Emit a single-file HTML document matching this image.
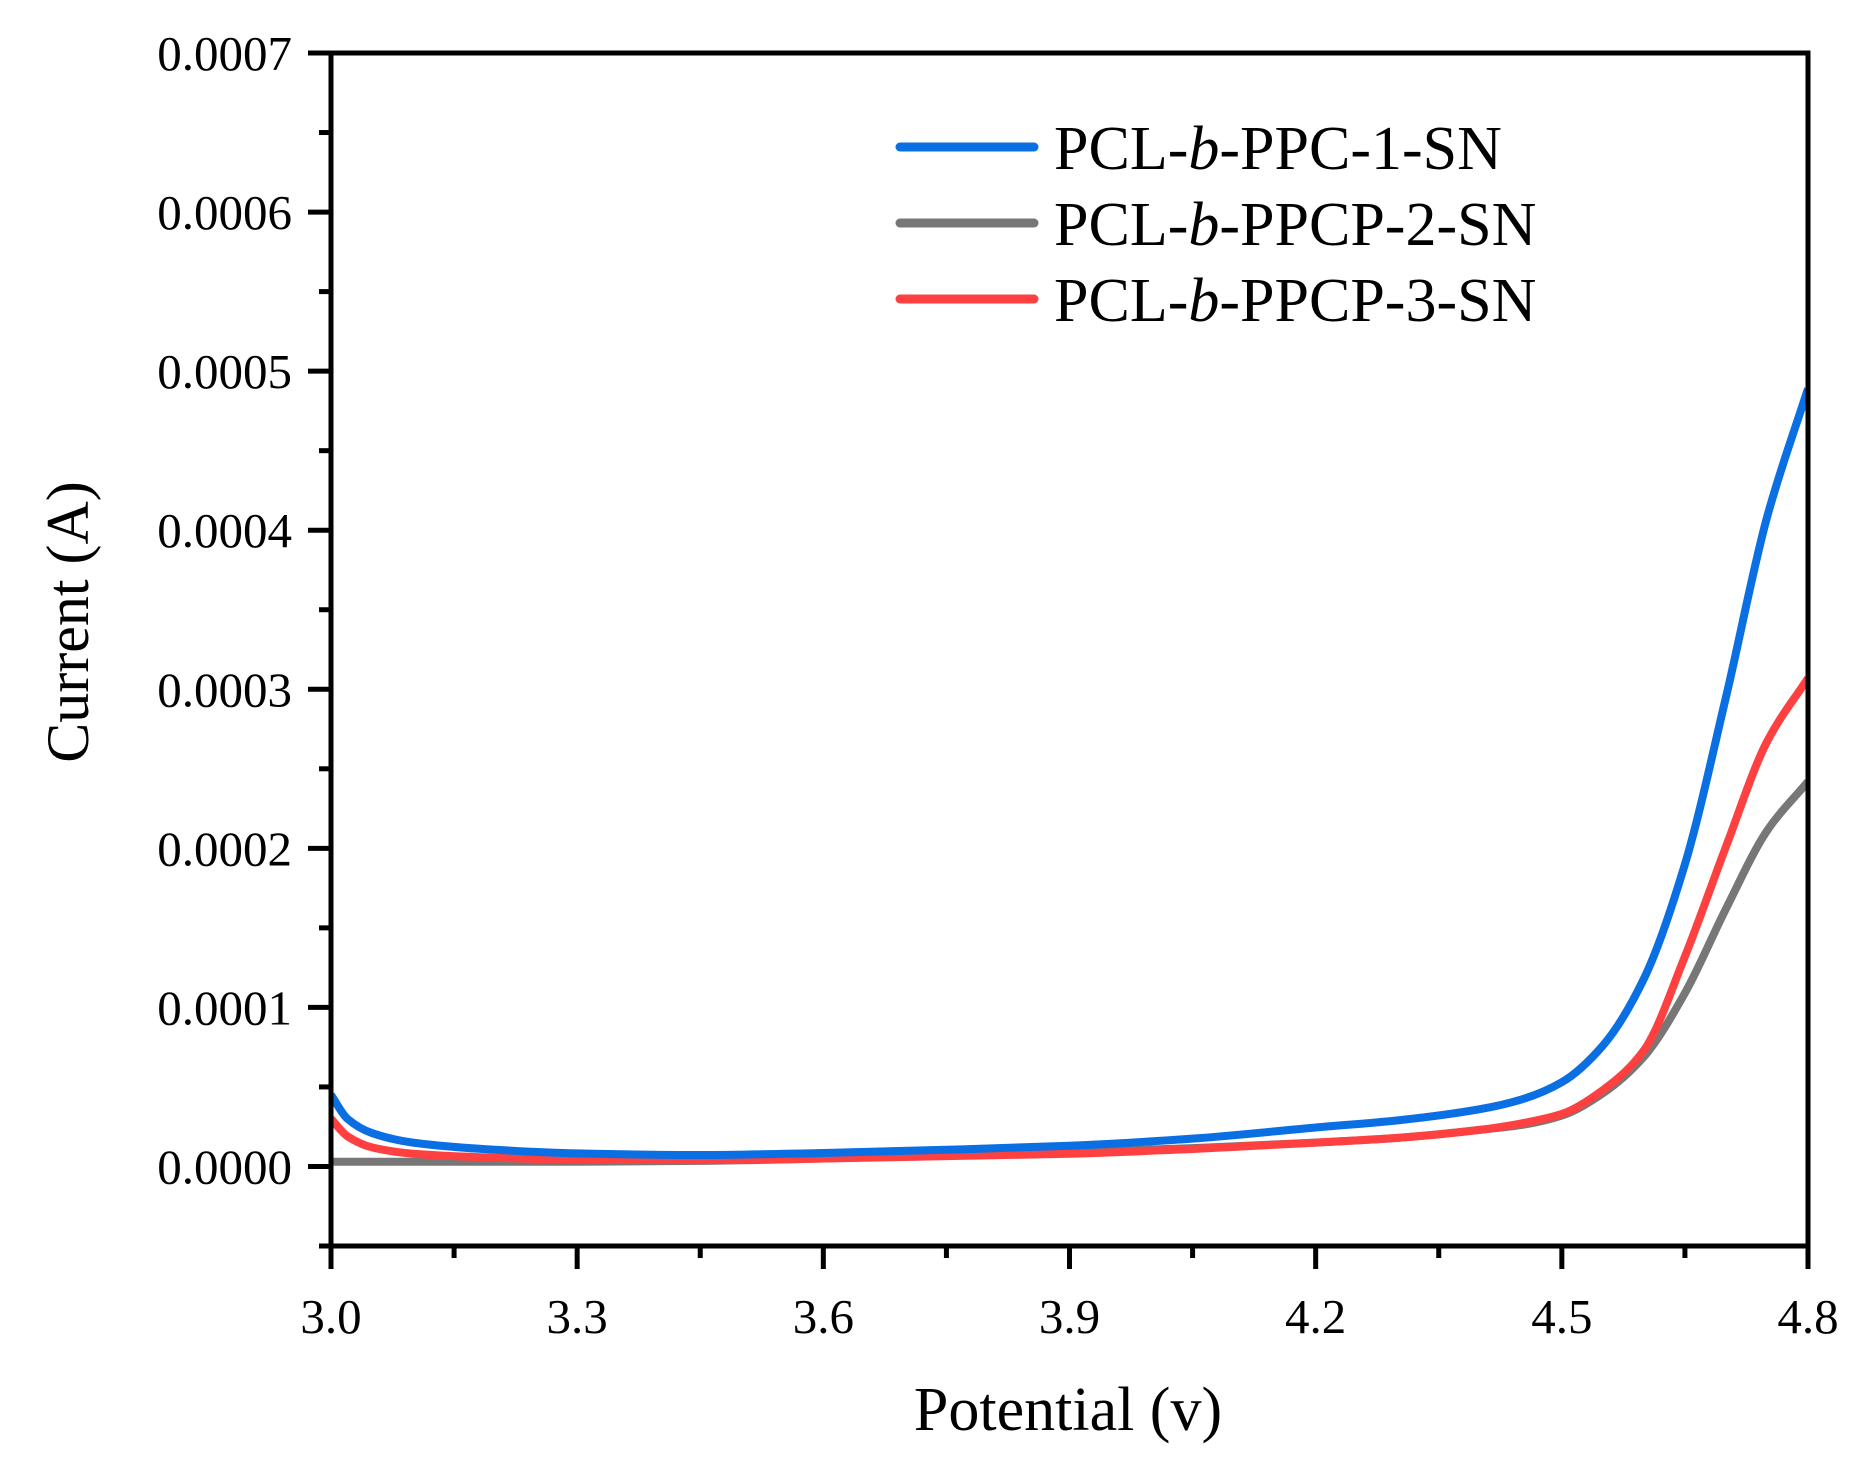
<!DOCTYPE html>
<html><head><meta charset="utf-8"><style>
html,body{margin:0;padding:0;background:#fff;}
svg{display:block;font-family:"Liberation Serif",serif;}
</style></head><body>
<svg id="chart" width="1860" height="1460" viewBox="0 0 1860 1460" xmlns="http://www.w3.org/2000/svg">
<g id="series"></g>
<g id="axes"></g>
<g id="legend"></g>
<text x="1068" y="1430" font-size="62" text-anchor="middle">Potential (v)</text>
<text transform="translate(88,622) rotate(-90)" font-size="60" text-anchor="middle">Current (A)</text>
</svg>
<script>
const xTicks = [3.0, 3.3, 3.6, 3.9, 4.2, 4.5, 4.8];
const xTickLabels = ["3.0","3.3","3.6","3.9","4.2","4.5","4.8"];
const yTicks = [0, 0.0001, 0.0002, 0.0003, 0.0004, 0.0005, 0.0006, 0.0007];
const yTickLabels = ["0.0000","0.0001","0.0002","0.0003","0.0004","0.0005","0.0006","0.0007"];
const potentials = [3.0, 3.02, 3.05, 3.1, 3.2, 3.3, 3.45, 3.6, 3.75, 3.9, 4.05, 4.2, 4.3, 4.4, 4.45, 4.5, 4.55, 4.6, 4.65, 4.7, 4.75, 4.8];
const seriesNames = ["PCL-b-PPC-1-SN", "PCL-b-PPCP-2-SN", "PCL-b-PPCP-3-SN"];
const currentPPC1 = [0.000045, 0.000030, 0.000021, 0.000015, 0.0000105, 0.0000082, 0.0000072, 0.0000085, 0.0000105, 0.000013, 0.0000175, 0.0000245, 0.000029, 0.000036, 0.000042, 0.000053, 0.000076, 0.000118, 0.000190, 0.000295, 0.000408, 0.000489];
const currentPPCP2 = [0.000003, 0.000003, 0.000003, 0.000003, 0.000003, 0.000003, 0.0000035, 0.000005, 0.000007, 0.000009, 0.0000115, 0.000015, 0.000018, 0.000023, 0.000026, 0.000032, 0.000046, 0.000069, 0.000109, 0.000162, 0.000211, 0.000242];
const currentPPCP3 = [0.00003, 0.000019, 0.000012, 0.000008, 0.0000055, 0.0000042, 0.000004, 0.000005, 0.0000065, 0.000008, 0.000011, 0.000015, 0.000018, 0.000023, 0.000027, 0.000033, 0.000048, 0.000073, 0.000132, 0.000201, 0.000267, 0.000307];
const seriesColors = ["#0a6fe3", "#777777", "#ff4040"];

const L=331, R=1808, T=53, B=1246;
const xMin=3.0, xMax=4.8, yMin=-0.00005, yMax=0.0007;
const sx = v => L + (v-xMin)/(xMax-xMin)*(R-L);
const sy = v => B - (v-yMin)/(yMax-yMin)*(B-T);
const NS='http://www.w3.org/2000/svg';
function mk(tag, attrs, parent){const e=document.createElementNS(NS,tag);for(const k in attrs)e.setAttribute(k,attrs[k]);parent.appendChild(e);return e;}

const axes=document.getElementById('axes');
const frame=mk('rect',{x:L,y:T,width:R-L,height:B-T,fill:'none',stroke:'#000','stroke-width':5},axes);


xTicks.forEach((v,i)=>{
  const t=mk('line',{x1:sx(v),x2:sx(v),y1:B,y2:B+23,stroke:'#000','stroke-width':5},axes);
  
  
  if(i<xTicks.length-1){const m=mk('line',{x1:sx(v+0.15),x2:sx(v+0.15),y1:B,y2:B+12,stroke:'#000','stroke-width':5},axes);
  
  }
  const lb=mk('text',{x:sx(v),y:1333,'font-size':49,'text-anchor':'middle'},axes);lb.textContent=xTickLabels[i];
  
  
});
yTicks.forEach((v,i)=>{
  const t=mk('line',{x1:L-23,x2:L,y1:sy(v),y2:sy(v),stroke:'#000','stroke-width':5},axes);
  
  
  const m=mk('line',{x1:L-12,x2:L,y1:sy(v-0.00005),y2:sy(v-0.00005),stroke:'#000','stroke-width':5},axes);
  
  
  const lb=mk('text',{x:292,y:sy(v)+17,'font-size':49,'text-anchor':'end'},axes);lb.textContent=yTickLabels[i];
  
  
});

// monotone cubic (Fritsch-Carlson) interpolation in pixel space
function smoothPath(xs, ys){
  const X=xs.map(sx), Y=ys.map(sy), n=X.length;
  const d=[], m=new Array(n);
  for(let i=0;i<n-1;i++) d.push((Y[i+1]-Y[i])/(X[i+1]-X[i]));
  m[0]=d[0]; m[n-1]=d[n-2];
  for(let i=1;i<n-1;i++){
    if(d[i-1]*d[i]<=0) m[i]=0;
    else { const h0=X[i]-X[i-1], h1=X[i+1]-X[i];
      const w1=2*h1+h0, w2=h1+2*h0;
      m[i]=(w1+w2)/(w1/d[i-1]+w2/d[i]); }
  }
  let p='M'+X[0]+','+Y[0];
  for(let i=0;i<n-1;i++){
    const h=X[i+1]-X[i];
    p+=' C'+(X[i]+h/3)+','+(Y[i]+m[i]*h/3)+' '+(X[i+1]-h/3)+','+(Y[i+1]-m[i+1]*h/3)+' '+X[i+1]+','+Y[i+1];
  }
  return p;
}
const seriesLayer=document.getElementById('series');
const allSeries=[currentPPC1,currentPPCP2,currentPPCP3];
const drawOrder=[1,2,0];
const clip=mk('clipPath',{id:'clipPlot'},seriesLayer);
mk('rect',{x:L,y:T,width:R-L,height:B-T},clip);
drawOrder.forEach(k=>{
  const pth=mk('path',{d:smoothPath(potentials,allSeries[k]),fill:'none',stroke:seriesColors[k],'stroke-width':8,'stroke-linejoin':'round','clip-path':'url(#clipPlot)'},seriesLayer);
  
  
});

const legend=document.getElementById('legend');
const legY=[147,223,299];
const legText=[["PCL-","b","-PPC-1-SN"],["PCL-","b","-PPCP-2-SN"],["PCL-","b","-PPCP-3-SN"]];
legY.forEach((y,i)=>{
  const ln=mk('line',{x1:900,x2:1034,y1:y,y2:y,stroke:seriesColors[i],'stroke-width':9,'stroke-linecap':'round'},legend);
  
  
  const tx=mk('text',{x:1054,y:y+22,'font-size':62},legend);
  
  
  const a=mk('tspan',{},tx);a.textContent=legText[i][0];
  const b=mk('tspan',{'font-style':'italic'},tx);b.textContent=legText[i][1];
  const c=mk('tspan',{},tx);c.textContent=legText[i][2];
});
</script>
</body></html>
